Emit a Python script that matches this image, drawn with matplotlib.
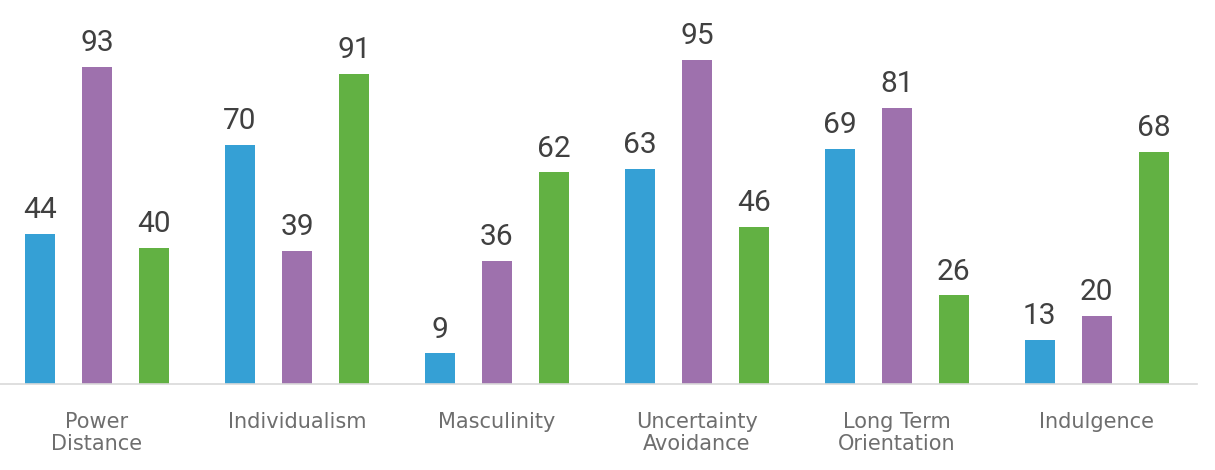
import matplotlib
matplotlib.use("Agg")
import matplotlib.pyplot as plt
import numpy as np

categories = ["Power\nDistance", "Individualism", "Masculinity",
              "Uncertainty\nAvoidance", "Long Term\nOrientation", "Indulgence"]
series_a = [44, 70, 9, 63, 69, 13]
series_b = [93, 39, 36, 95, 81, 20]
series_c = [40, 91, 62, 46, 26, 68]
colors = ["#35A0D5", "#9E71AD", "#62B143"]

fig = plt.figure(figsize=(12.15, 4.7), dpi=100)
ax = fig.add_axes([0.0, 0.183, 0.985, 0.797])

x = np.arange(len(categories))
offset = 0.285
width = 0.15
for vals, off, col in zip([series_a, series_b, series_c], [-offset, 0, offset], colors):
    bars = ax.bar(x + off, vals, width=width, color=col, zorder=2)
    for b, v in zip(bars, vals):
        ax.annotate(str(v), (b.get_x() + b.get_width() / 2, v),
                    xytext=(0, 7), textcoords="offset points",
                    ha="center", va="bottom", fontsize=21.5,
                    family="Roboto", color="#404040")

ax.set_xlim(-0.485, 5.5)
ax.set_ylim(0, 109.8)
ax.set_xticks(x)
ax.set_xticklabels(categories, fontsize=15, family="DejaVu Sans",
                   color="#6E6E6E", linespacing=1.15)
ax.tick_params(axis="x", length=0, pad=20)
ax.set_yticks([])
for s in ["top", "right", "left"]:
    ax.spines[s].set_visible(False)
ax.spines["bottom"].set_color("#D9D9D9")
ax.spines["bottom"].set_linewidth(1.2)

fig.savefig("out.png", dpi=100)
